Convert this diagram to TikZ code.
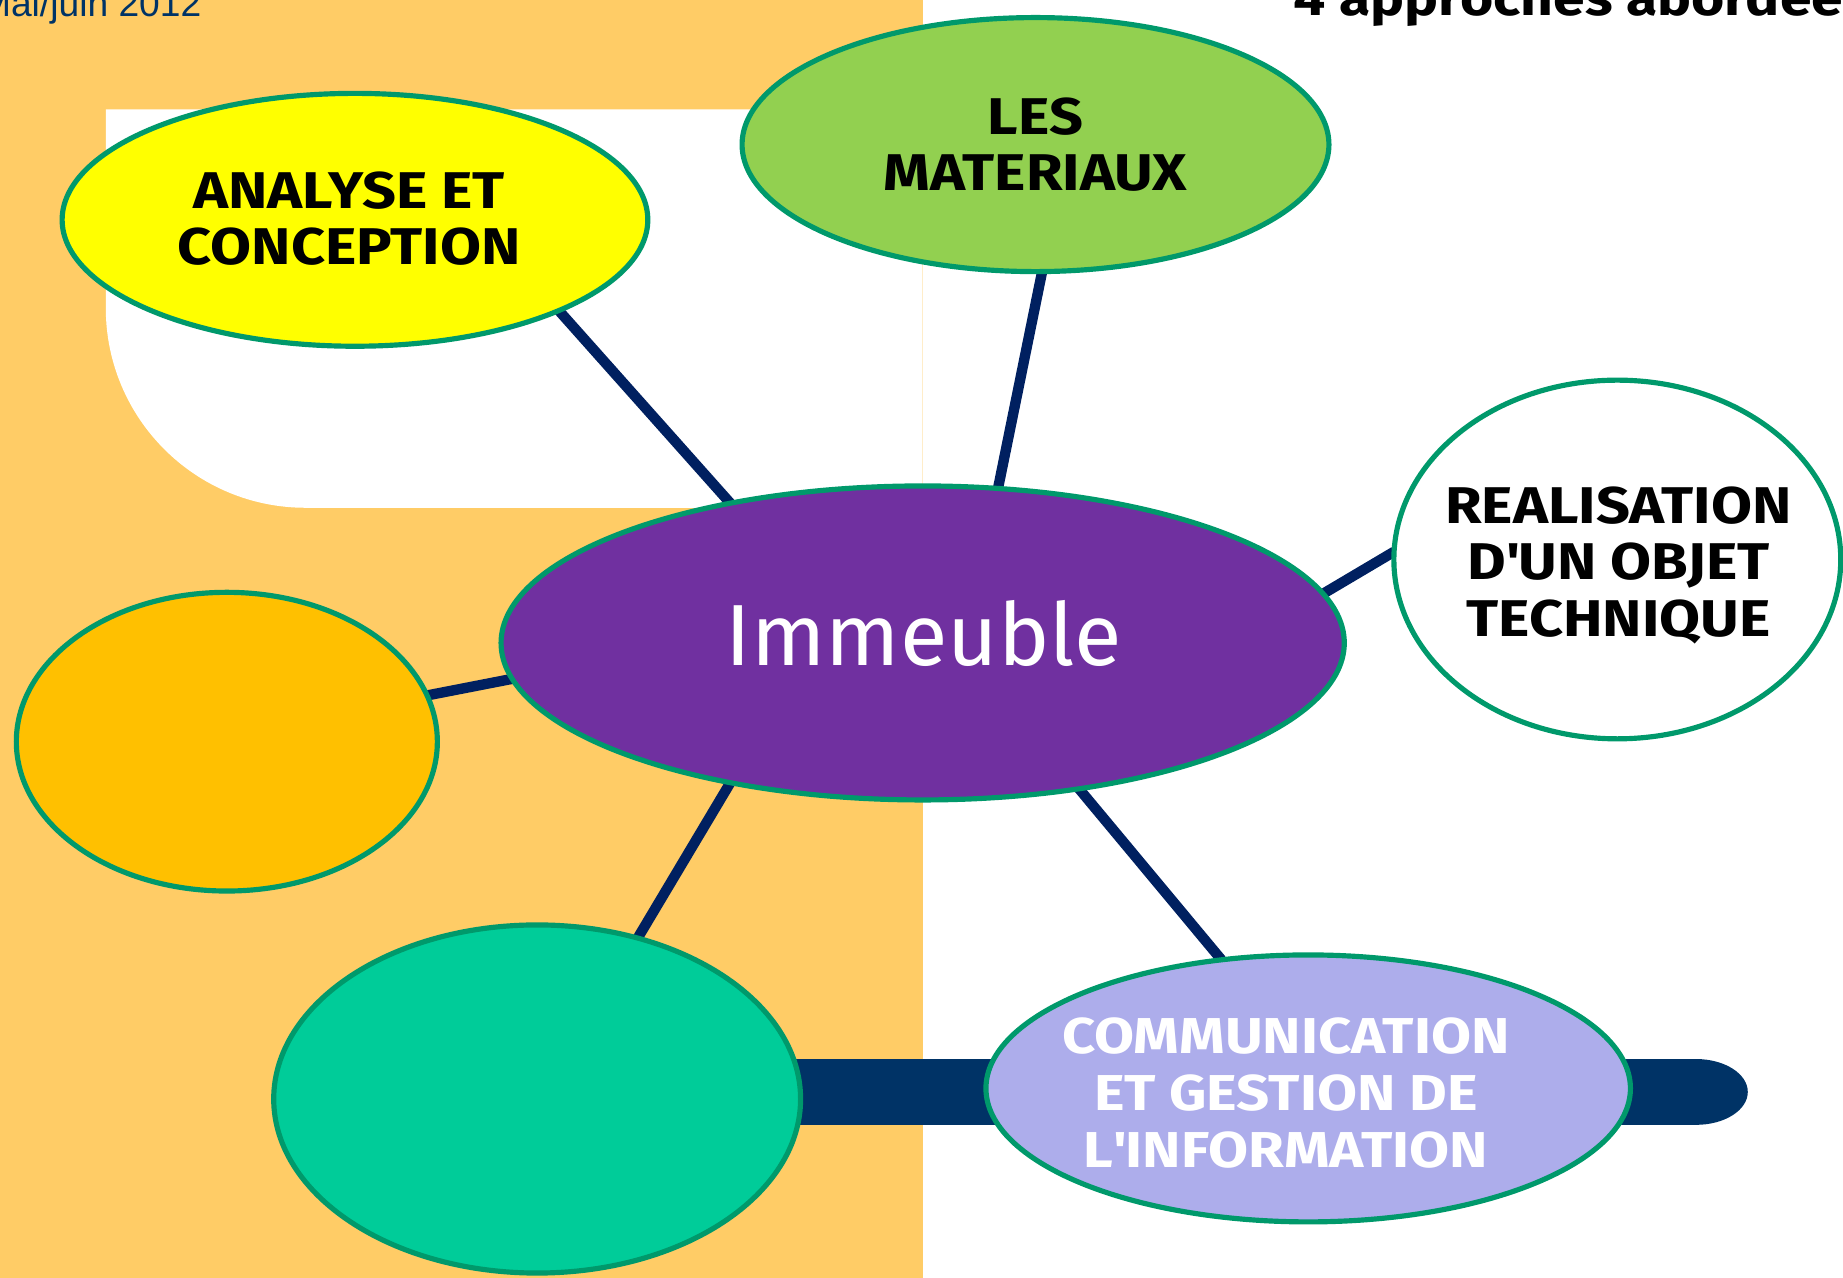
\documentclass[tikz,border=0pt]{standalone}
\usepackage{fontspec}
\setmainfont{Fira Sans}
\newfontfamily\comic[FakeStretch=1.15]{Fira Sans}
\newfontfamily\arialf{Liberation Sans}
\usetikzlibrary{shapes.geometric}
\pgfdeclarelayer{bg}
\pgfdeclarelayer{lines}
\pgfsetlayers{bg,lines,main}
\definecolor{bgorange}{HTML}{FFCC66}
\definecolor{bordercol}{HTML}{00996B}
\definecolor{conncol}{HTML}{002060}
\definecolor{barcol}{HTML}{003366}
\definecolor{yellowf}{HTML}{FFFF00}
\definecolor{greenf}{HTML}{92D050}
\definecolor{purplef}{HTML}{7030A0}
\definecolor{orangef}{HTML}{FFC000}
\definecolor{tealf}{HTML}{00CC99}
\definecolor{lavf}{HTML}{ADADEB}
\definecolor{datecol}{HTML}{003366}
\tikzset{
  blob/.style={ellipse, draw=bordercol, line width=1.25pt, inner sep=0pt, outer sep=0pt},
  conn/.style={draw=conncol, line width=2.5pt},
  lbl/.style={align=center, inner sep=0pt, font=\comic\bfseries\fontsize{12.5}{13.7}\selectfont},
  lblsmall/.style={align=center, inner sep=0pt, font=\comic\bfseries\fontsize{12.2}{13.7}\selectfont, text=white},
}
\begin{document}
\begin{tikzpicture}[x=0.01cm,y=-0.01cm]
\useasboundingbox (0,0) rectangle (1568,1087);
\begin{pgfonlayer}{bg}
  \fill[bgorange] (0,0) rectangle (785,1087);
  \fill[white] (90,93) -- (785,93) -- (785,432) -- (260,432)
     arc[start angle=90, end angle=180, radius=170] -- cycle;
  \fill[barcol] (600,901) -- (1443,901)
     arc[start angle=-90, end angle=90, x radius=44, y radius=28] -- (600,957) -- cycle;
\end{pgfonlayer}

% ellipses
\node[blob, fill=yellowf, minimum width=4.98cm, minimum height=2.15cm] (yel) at (302,187) {};
\node[blob, fill=greenf, minimum width=4.99cm, minimum height=2.16cm] (grn) at (881,123) {};
\node[blob, fill=purplef, minimum width=7.17cm, minimum height=2.67cm] (pur) at (785,547) {};
\node[blob, fill=white, minimum width=3.80cm, minimum height=3.05cm] (rea) at (1376,476) {};
\node[blob, fill=orangef, minimum width=3.58cm, minimum height=2.54cm] (ora) at (193,631) {};
\node[blob, fill=tealf, minimum width=4.48cm, minimum height=2.96cm] (tea) at (457,935) {};
\node[blob, fill=lavf, minimum width=5.48cm, minimum height=2.27cm] (lav) at (1113,926) {};

% connectors
\begin{pgfonlayer}{lines}
  \draw[conn] (yel.-24) -- (pur.144);
  \draw[conn] (grn.-87) -- (pur.64);
  \draw[conn] (rea.178) -- (pur.7.4);
  \draw[conn] (ora.13) -- (pur.-175);
  \draw[conn] (tea.58.7) -- (pur.216.5);
  \draw[conn] (lav.124.6) -- (pur.-43.6);
\end{pgfonlayer}

% texts
\node[lbl] (tyel) at (297,186) {ANALYSE ET\\CONCEPTION};
\node[lbl] (tgrn) at (881,123) {LES\\MATERIAUX};
\node[lbl] (trea) at (1377,481) {REALISATION\\D\textquotesingle UN OBJET\\TECHNIQUE};
\node[lblsmall] (tlav) at (1094,930) {COMMUNICATION\\ET GESTION DE\\L\textquotesingle INFORMATION};
\node[anchor=base, inner sep=0pt, text=white, font=\fontsize{21}{24}\selectfont] (tpur) at (786,566) {Immeuble};
\node[anchor=base east, inner sep=0pt, text=datecol, font=\arialf\fontsize{9}{10}\selectfont] (date) at (172,14) {Mai/juin 2012};
\node[anchor=base west, inner sep=0pt, text=black, font=\comic\bfseries\fontsize{12}{13}\selectfont] (title) at (1100,13) {4 approches abordées};
\end{tikzpicture}
\end{document}
